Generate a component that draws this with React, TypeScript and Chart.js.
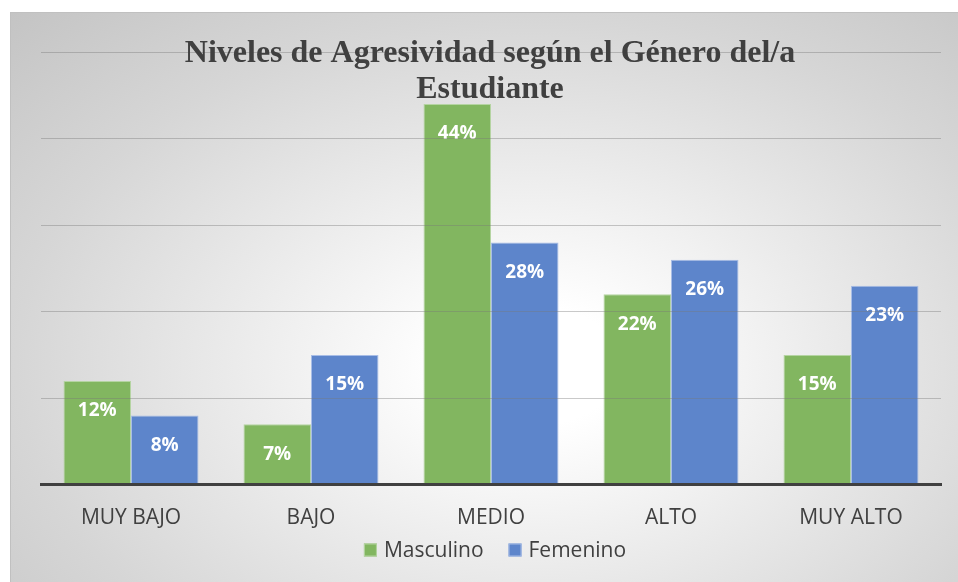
import React, { useEffect, useRef } from "react";
import { Chart, registerables } from "chart.js";

Chart.register(...registerables);

const categories = ["MUY BAJO", "BAJO", "MEDIO", "ALTO", "MUY ALTO"];
const masculino = [12, 7, 44, 22, 15];
const femenino = [8, 15, 28, 26, 23];
const seriesNames = ["Masculino", "Femenino"];
const seriesColors = ["#82b660", "#5d85cb"];
const seriesBorders = ["#b5d4a2", "#a8bde6"];
const titleLines = ["Niveles de Agresividad según el Género del/a", "Estudiante"];

const W = 948;
const H = 570;
const SANS = '"Open Sans", sans-serif';

const titlePlugin = {
  id: "titlePlugin",
  afterDraw(chart: any) {
    const ctx = chart.ctx;
    ctx.save();
    ctx.fillStyle = "#404040";
    ctx.font = 'bold 32px "Liberation Serif", "Times New Roman", serif';
    ctx.textAlign = "center";
    ctx.textBaseline = "alphabetic";
    ctx.fillText(titleLines[0], 480, 50);
    ctx.fillText(titleLines[1], 480, 86);
    ctx.restore();
  },
};

const legendPlugin = {
  id: "legendPlugin",
  afterDraw(chart: any) {
    const ctx = chart.ctx;
    ctx.save();
    ctx.font = "21px " + SANS;
    const box = 13;
    const gap = 7;
    const itemGap = 25;
    const widths = seriesNames.map((n) => ctx.measureText(n).width);
    const total = widths.reduce((a, w) => a + box + gap + w, 0) + itemGap * (seriesNames.length - 1);
    let x = 485 - total / 2;
    const cy = 538;
    ctx.textBaseline = "middle";
    ctx.textAlign = "left";
    seriesNames.forEach((n, i) => {
      ctx.fillStyle = seriesColors[i];
      ctx.fillRect(x, cy - box / 2, box, box);
      ctx.strokeStyle = seriesBorders[i];
      ctx.lineWidth = 1;
      ctx.strokeRect(x + 0.5, cy - box / 2 + 0.5, box - 1, box - 1);
      ctx.fillStyle = "#404040";
      ctx.fillText(n, x + box + gap, cy + 1);
      x += box + gap + widths[i] + itemGap;
    });
    ctx.restore();
  },
};

const labelPlugin = {
  id: "labelPlugin",
  afterDatasetsDraw(chart: any) {
    const ctx = chart.ctx;
    ctx.save();
    ctx.fillStyle = "#ffffff";
    ctx.font = "bold 19px " + SANS;
    ctx.textAlign = "center";
    ctx.textBaseline = "middle";
    chart.data.datasets.forEach((ds: any, i: number) => {
      const meta = chart.getDatasetMeta(i);
      meta.data.forEach((bar: any, j: number) => {
        ctx.fillText(ds.data[j] + "%", bar.x, bar.y + 30);
      });
    });
    ctx.restore();
  },
};

export default function App() {
  const ref = useRef<HTMLCanvasElement>(null);
  useEffect(() => {
    const chart = new Chart(ref.current as HTMLCanvasElement, {
      type: "bar",
      data: {
        labels: categories,
        datasets: seriesNames.map((n, i) => ({
          label: n,
          data: i === 0 ? masculino : femenino,
          backgroundColor: seriesColors[i],
          borderColor: seriesBorders[i],
          borderWidth: 1,
        })),
      },
      options: {
        responsive: false,
        animation: false,
        layout: { padding: { left: 31, right: 17, top: 40, bottom: 30 } },
        datasets: { bar: { categoryPercentage: 0.75, barPercentage: 1 } },
        scales: {
          x: {
            grid: { display: false, drawTicks: false },
            border: { display: true, color: "#404040", width: 3, z: 2 },
            ticks: {
              color: "#404040",
              font: { family: SANS, size: 21 },
              padding: 21,
            },
          },
          y: {
            min: 0,
            max: 50,
            ticks: { display: false, stepSize: 10 },
            grid: { color: "rgba(120,120,120,0.4)", drawTicks: false, z: 1 },
            border: { display: false },
          },
        },
        plugins: {
          legend: { display: false },
          tooltip: { enabled: false },
          title: { display: false },
        },
      },
      plugins: [titlePlugin, labelPlugin, legendPlugin],
    });
    return () => chart.destroy();
  }, []);
  return (
    <div
      style={{
        position: "absolute",
        left: 10,
        top: 12,
        width: W,
        height: H,
        boxSizing: "border-box",
        borderTop: "1px solid #c0c0c0",
        borderLeft: "1px solid #c0c0c0",
        background:
          "radial-gradient(ellipse farthest-corner at 55% 62%, #ffffff 0%, #ffffff 12%, #d6d6d6 70%, #c4c4c4 100%)",
        overflow: "hidden",
      }}
    >
      <canvas ref={ref} width={W} height={H} style={{ position: "absolute", left: -1, top: -1, width: W, height: H }} />
    </div>
  );
}
